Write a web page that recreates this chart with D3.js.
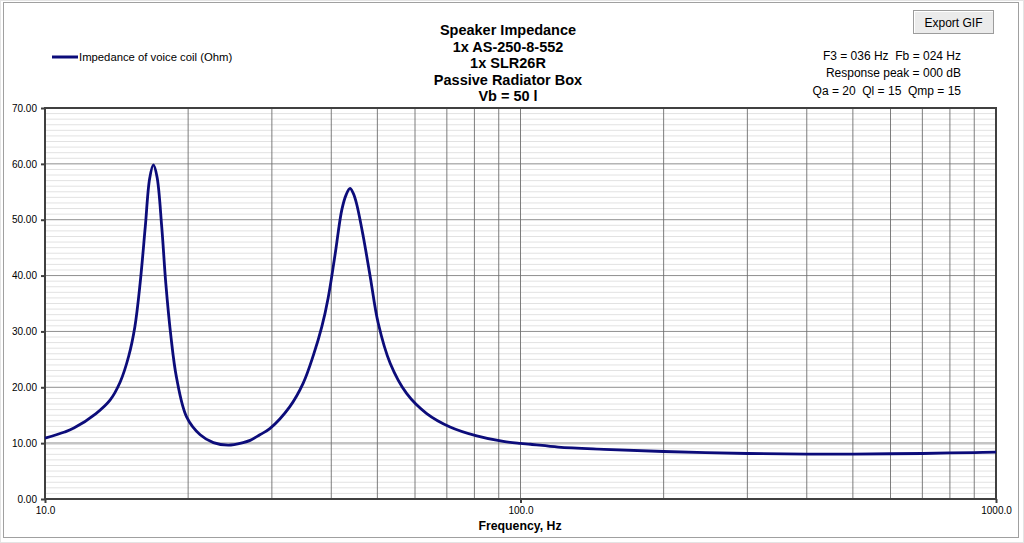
<!DOCTYPE html>
<html>
<head>
<meta charset="utf-8">
<script src="https://cdn.jsdelivr.net/npm/d3@7/dist/d3.min.js"></script>
<style>
  html, body { margin: 0; padding: 0; background: #ffffff; }
  svg { display: block; font-family: "Liberation Sans", Arial, sans-serif; }
  text { white-space: pre; }
</style>
</head>
<body>
<svg id="chart" width="1024" height="543"></svg>
<script>
// ---- data ----
const titleLines = ["Speaker Impedance", "1x AS-250-8-552", "1x SLR26R", "Passive Radiator Box", "Vb = 50 l"];
const infoLines = ["F3 = 036 Hz  Fb = 024 Hz", "Response peak = 000 dB", "Qa = 20  Ql = 15  Qmp = 15"];
const seriesName = "Impedance of voice coil (Ohm)";
const xLabel = "Frequency, Hz";
const xTickValues = [10, 100, 1000];
const yTickValues = [0, 10, 20, 30, 40, 50, 60, 70];
const frequency = [10, 11.0, 11.5, 12.8, 13.7, 14.4, 15.0, 15.45, 15.85, 16.25, 16.6, 16.9, 17.2, 17.6, 17.95, 18.4, 18.9, 19.85, 21.2, 22.6, 24.3, 26.1, 27.0, 28.3, 29.7, 32.7, 34.9, 36.7, 38.2, 39.4, 40.7, 42.1, 43.0, 43.8, 44.5, 45.2, 46.7, 48.3, 50.2, 53.2, 57.6, 63.5, 71.1, 80.9, 92.0, 100, 105, 120, 150, 200, 300, 400, 500, 600, 700, 800, 900, 1000];
const impedance = [10.9, 12.0, 12.7, 15.3, 17.7, 21.0, 25.6, 30.8, 38.6, 48.7, 57.4, 59.8, 57.7, 48.7, 38.6, 29.1, 21.8, 14.7, 11.5, 10.1, 9.65, 10.1, 10.5, 11.5, 12.6, 16.5, 20.7, 25.8, 30.8, 36.0, 43.5, 51.8, 54.5, 55.6, 54.7, 52.9, 47.0, 39.8, 31.5, 24.3, 18.9, 15.3, 12.9, 11.3, 10.3, 9.95, 9.8, 9.3, 8.9, 8.5, 8.15, 8.05, 8.05, 8.1, 8.15, 8.25, 8.3, 8.4];

// ---- layout ----
const svg = d3.select("#chart");
const W = 1024, H = 543;
const plot = { left: 45, right: 996, top: 108, bottom: 499 };

// outer frame
svg.append("rect").attr("x", 0.5).attr("y", 0.5).attr("width", W - 1).attr("height", H - 1)
  .attr("fill", "#ffffff").attr("stroke", "#e4e4e4");
svg.append("rect").attr("x", 3.5).attr("y", 2.5).attr("width", 1015).attr("height", 535)
  .attr("fill", "#ffffff").attr("stroke", "#a0a0a0");

const x = d3.scaleLog().domain([10, 1000]).range([plot.left, plot.right]);
const y = d3.scaleLinear().domain([0, 70]).range([plot.bottom, plot.top]);

const g = svg.append("g");

// minor horizontal gridlines (every 1 Ohm)
const minorY = d3.range(1, 70).filter(v => v % 10 !== 0);
g.selectAll("line.minorY").data(minorY).enter().append("line")
  .attr("x1", plot.left).attr("x2", plot.right)
  .attr("y1", d => y(d)).attr("y2", d => y(d))
  .attr("stroke", "#e2e2e2").attr("stroke-width", 1);

// major horizontal gridlines
g.selectAll("line.majorY").data(yTickValues.filter(v => v > 0 && v < 70)).enter().append("line")
  .attr("x1", plot.left).attr("x2", plot.right)
  .attr("y1", d => y(d)).attr("y2", d => y(d))
  .attr("stroke", d => d === 10 ? "#c4c4c4" : "#8e8e8e")
  .attr("stroke-width", d => d === 10 ? 2.5 : 1);

// vertical gridlines (log minor)
const vGrid = [];
[10, 100].forEach(dec => { for (let k = 2; k <= 9; k++) vGrid.push(dec * k); });
vGrid.push(100);
g.selectAll("line.vgrid").data(vGrid).enter().append("line")
  .attr("x1", d => x(d)).attr("x2", d => x(d))
  .attr("y1", plot.top).attr("y2", plot.bottom)
  .attr("stroke", "#6e6e6e").attr("stroke-width", 0.9);

// plot frame
g.append("rect").attr("x", plot.left).attr("y", plot.top)
  .attr("width", plot.right - plot.left).attr("height", plot.bottom - plot.top)
  .attr("fill", "none").attr("stroke", "#404040").attr("stroke-width", 2);

// axes
const yAxis = d3.axisLeft(y).tickValues(yTickValues).tickFormat(d3.format(".2f")).tickSize(4).tickPadding(4);
const yG = svg.append("g").attr("transform", `translate(${plot.left},0)`).call(yAxis);
const xAxis = d3.axisBottom(x).tickValues(xTickValues).tickFormat(d3.format(".1f")).tickSize(4).tickPadding(4);
const xG = svg.append("g").attr("transform", `translate(0,${plot.bottom})`).call(xAxis);
[yG, xG].forEach(a => {
  a.select(".domain").remove();
  a.selectAll(".tick line").attr("stroke", "#404040").attr("stroke-width", 2);
  a.selectAll(".tick text").attr("fill", "#000").style("font-size", "10px")
    .style("font-family", "'Liberation Sans', Arial, sans-serif");
});

// curve
const pts = frequency.map((f, i) => [f, impedance[i]]);
const line = d3.line().x(d => x(d[0])).y(d => y(d[1])).curve(d3.curveCatmullRom.alpha(0.5));
svg.append("path").datum(pts).attr("d", line)
  .attr("fill", "none").attr("stroke", "#0c0c7a").attr("stroke-width", 2.8)
  .attr("stroke-linejoin", "round");

// title
svg.append("g").selectAll("text").data(titleLines).enter().append("text")
  .attr("x", 508).attr("y", (d, i) => 35 + i * 16.5)
  .attr("text-anchor", "middle").style("font-weight", "bold").style("font-size", "14.5px")
  .text(d => d);

// legend
svg.append("line").attr("x1", 52).attr("x2", 78).attr("y1", 57).attr("y2", 57)
  .attr("stroke", "#0c0c7a").attr("stroke-width", 3);
svg.append("text").attr("x", 79).attr("y", 61).style("font-size", "11.3px").text(seriesName);

// info lines
svg.append("g").selectAll("text").data(infoLines).enter().append("text")
  .attr("x", 961).attr("y", (d, i) => 59.5 + i * 17.5)
  .attr("text-anchor", "end").style("font-size", "12px").text(d => d);

// export button
svg.append("rect").attr("x", 913.5).attr("y", 10.5).attr("width", 80).attr("height", 23)
  .attr("fill", "#ebebeb").attr("stroke", "#9c9c9c");
svg.append("line").attr("x1", 914).attr("x2", 993).attr("y1", 11.5).attr("y2", 11.5).attr("stroke", "#ffffff");
svg.append("line").attr("x1", 914.5).attr("x2", 914.5).attr("y1", 11).attr("y2", 33).attr("stroke", "#ffffff");
svg.append("text").attr("x", 953.5).attr("y", 26.5).attr("text-anchor", "middle")
  .style("font-size", "12px").text("Export GIF");

// x-axis title
svg.append("text").attr("x", 520).attr("y", 530).attr("text-anchor", "middle")
  .style("font-weight", "bold").style("font-size", "12.3px").text(xLabel);
</script>
</body>
</html>
